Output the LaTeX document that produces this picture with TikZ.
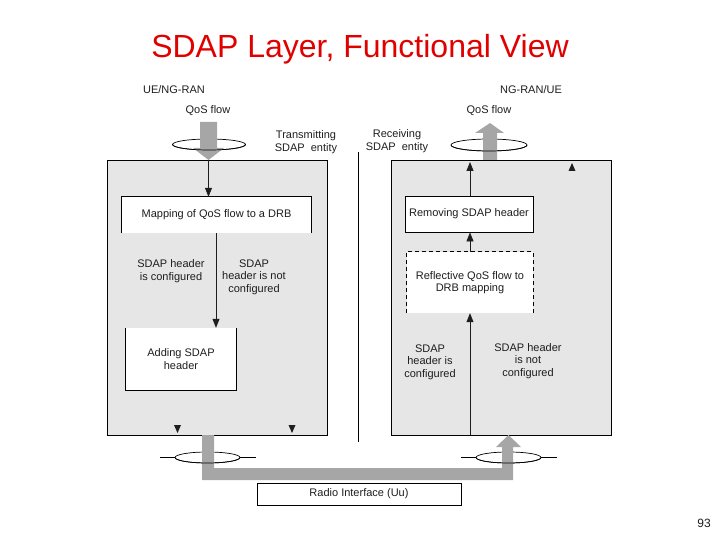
\documentclass[tikz,border=0pt]{standalone}
\usepackage{fontspec}
\setmainfont{Liberation Sans}
\usetikzlibrary{arrows.meta}
\definecolor{boxgray}{RGB}{230,230,230}
\definecolor{flowgray}{RGB}{166,166,166}
\definecolor{titlered}{RGB}{225,0,0}
\definecolor{ink}{RGB}{30,30,30}
\begin{document}
\begin{tikzpicture}[x=1pt,y=-1pt,
  lbl/.style={font=\fontsize{11}{12.5}\selectfont, align=center, inner sep=0pt, text=ink},
  panel/.style={draw=black, fill=boxgray, line width=0.8pt, anchor=north west, inner sep=0pt},
  wbox/.style={fill=white, inner sep=0pt, align=center, font=\fontsize{11}{12.5}\selectfont, text=ink},
  edge/.style={draw=black, line width=0.8pt},
  arr/.style={draw=ink, line width=0.8pt, -{Triangle[length=9pt,width=7pt]}},
  ring/.style={draw=black, line width=0.7pt},
  flow/.style={fill=flowgray, draw=none}]
\useasboundingbox (0,0) rectangle (720,540);

% title and page number
\node[font=\fontsize{32}{36}\selectfont, text=titlered, anchor=base] (title) at (360,58) {SDAP Layer, Functional View};
\node[font=\fontsize{12}{14}\selectfont, anchor=base, text=ink] (page) at (704,527) {93};

% panels
\node[panel, minimum width=220pt, minimum height=275pt] (tx) at (107,160) {};
\node[panel, minimum width=220pt, minimum height=275pt] (rx) at (391,160) {};
\coordinate (divtop) at (358,152);
\coordinate (divbot) at (358,442);
\draw[draw=black, line width=0.8pt] (divtop) -- (divbot);

% top labels
\node[lbl] (uel) at (174,90) {UE/NG-RAN};
\node[lbl] (uer) at (531,90) {NG-RAN/UE};
\node[lbl] (qosl) at (208,111) {QoS flow};
\node[lbl] (qosr) at (489,111) {QoS flow};
\node[lbl] (txl) at (306,142) {Transmitting\\SDAP\ \ entity};
\node[lbl] (rxl) at (397,141) {Receiving\\SDAP\ \ entity};

% top-left QoS flow (into transmitter)
\draw[ring] (209,144.5) ellipse [x radius=36.5, y radius=5.5];
\fill[flow] (200,122) -- (217,122) -- (217,148) -- (224,148) -- (208.5,160) -- (193,148) -- (200,148) -- cycle;
\draw[ring] (172.5,144.5) arc[start angle=180, end angle=0, x radius=36.5, y radius=5.5];

% top-right QoS flow (out of receiver)
\draw[ring] (489,145) ellipse [x radius=38, y radius=6];
\fill[flow] (483,160) -- (497,160) -- (497,133) -- (504,133) -- (490,123) -- (475,133) -- (483,133) -- cycle;
\draw[ring] (451,145) arc[start angle=180, end angle=0, x radius=38, y radius=6];

% transmitter boxes
\node[wbox, minimum width=189pt, minimum height=36pt] (map) at (216.5,215) {Mapping of QoS flow to a DRB};
\draw[edge] (map.south west) -- (map.north west) -- (map.north east) -- (map.south east);
\node[wbox, minimum width=111pt, minimum height=62pt] (add) at (181,359) {Adding SDAP\\header};
\draw[edge] (add.north west) -- (add.south west) -- (add.south east) -- (add.north east);

\coordinate (txin) at (208.5,160);
\draw[arr] (txin) -- (txin |- map.north);
\coordinate (mapout) at (216,233);
\draw[arr] (mapout) -- (mapout |- add.north);

\node[lbl] (tcfg) at (171,271) {SDAP header\\is configured};
\node[lbl] (tncfg) at (254,277) {SDAP\\header is not\\configured};

\fill[ink] (174,425) -- (181,425) -- (177.5,433) -- cycle;
\fill[ink] (288.5,425) -- (295.5,425) -- (292,433) -- cycle;

% receiver boxes
\node[wbox, minimum width=128pt, minimum height=36pt, draw=black, line width=0.8pt] (rem) at (469,214) {Removing SDAP header};
\node[wbox, minimum width=126pt, minimum height=61pt] (refl) at (470,282.5) {Reflective QoS flow to\\DRB mapping};
\draw[edge, dashed, dash pattern=on 4pt off 3pt] (refl.south west) -- (refl.north west) -- (refl.north east) -- (refl.south east);

\coordinate (rxin) at (470,435);
\draw[arr] (rxin) -- (rxin |- refl.south);
\coordinate (reflout) at (470,252);
\draw[arr] (reflout) -- (reflout |- rem.south);
\coordinate (remout) at (470,196);
\coordinate (rxtop) at (470,162);
\draw[arr] (remout) -- (rxtop);

\node[lbl] (rcfg) at (430,362) {SDAP\\header is\\configured};
\node[lbl] (rncfg) at (528,361) {SDAP header\\is not\\configured};

\fill[ink] (568.5,171) -- (575.5,171) -- (572,163) -- cycle;

% radio interface path
\draw[ring] (160,457.5) -- (175,457.5);
\draw[ring] (240,457.5) -- (256,457.5);
\draw[ring] (207.5,457.5) ellipse [x radius=32.5, y radius=5.5];
\draw[ring] (461,457.5) -- (476,457.5);
\draw[ring] (541,457.5) -- (557,457.5);
\draw[ring] (508.5,457.5) ellipse [x radius=32.5, y radius=5.5];
\fill[flow] (202,435) -- (214,435) -- (214,468) -- (502,468) -- (502,447) -- (496,447) -- (508.5,435) -- (521,447) -- (513,447) -- (513,480) -- (202,480) -- cycle;
\draw[ring] (175,457.5) arc[start angle=180, end angle=0, x radius=32.5, y radius=5.5];
\draw[ring] (476,457.5) arc[start angle=180, end angle=0, x radius=32.5, y radius=5.5];

\node[wbox, draw=black, line width=0.8pt, minimum width=204pt, minimum height=22pt] (uu) at (359,494) {Radio Interface (Uu)};
\end{tikzpicture}
\end{document}
